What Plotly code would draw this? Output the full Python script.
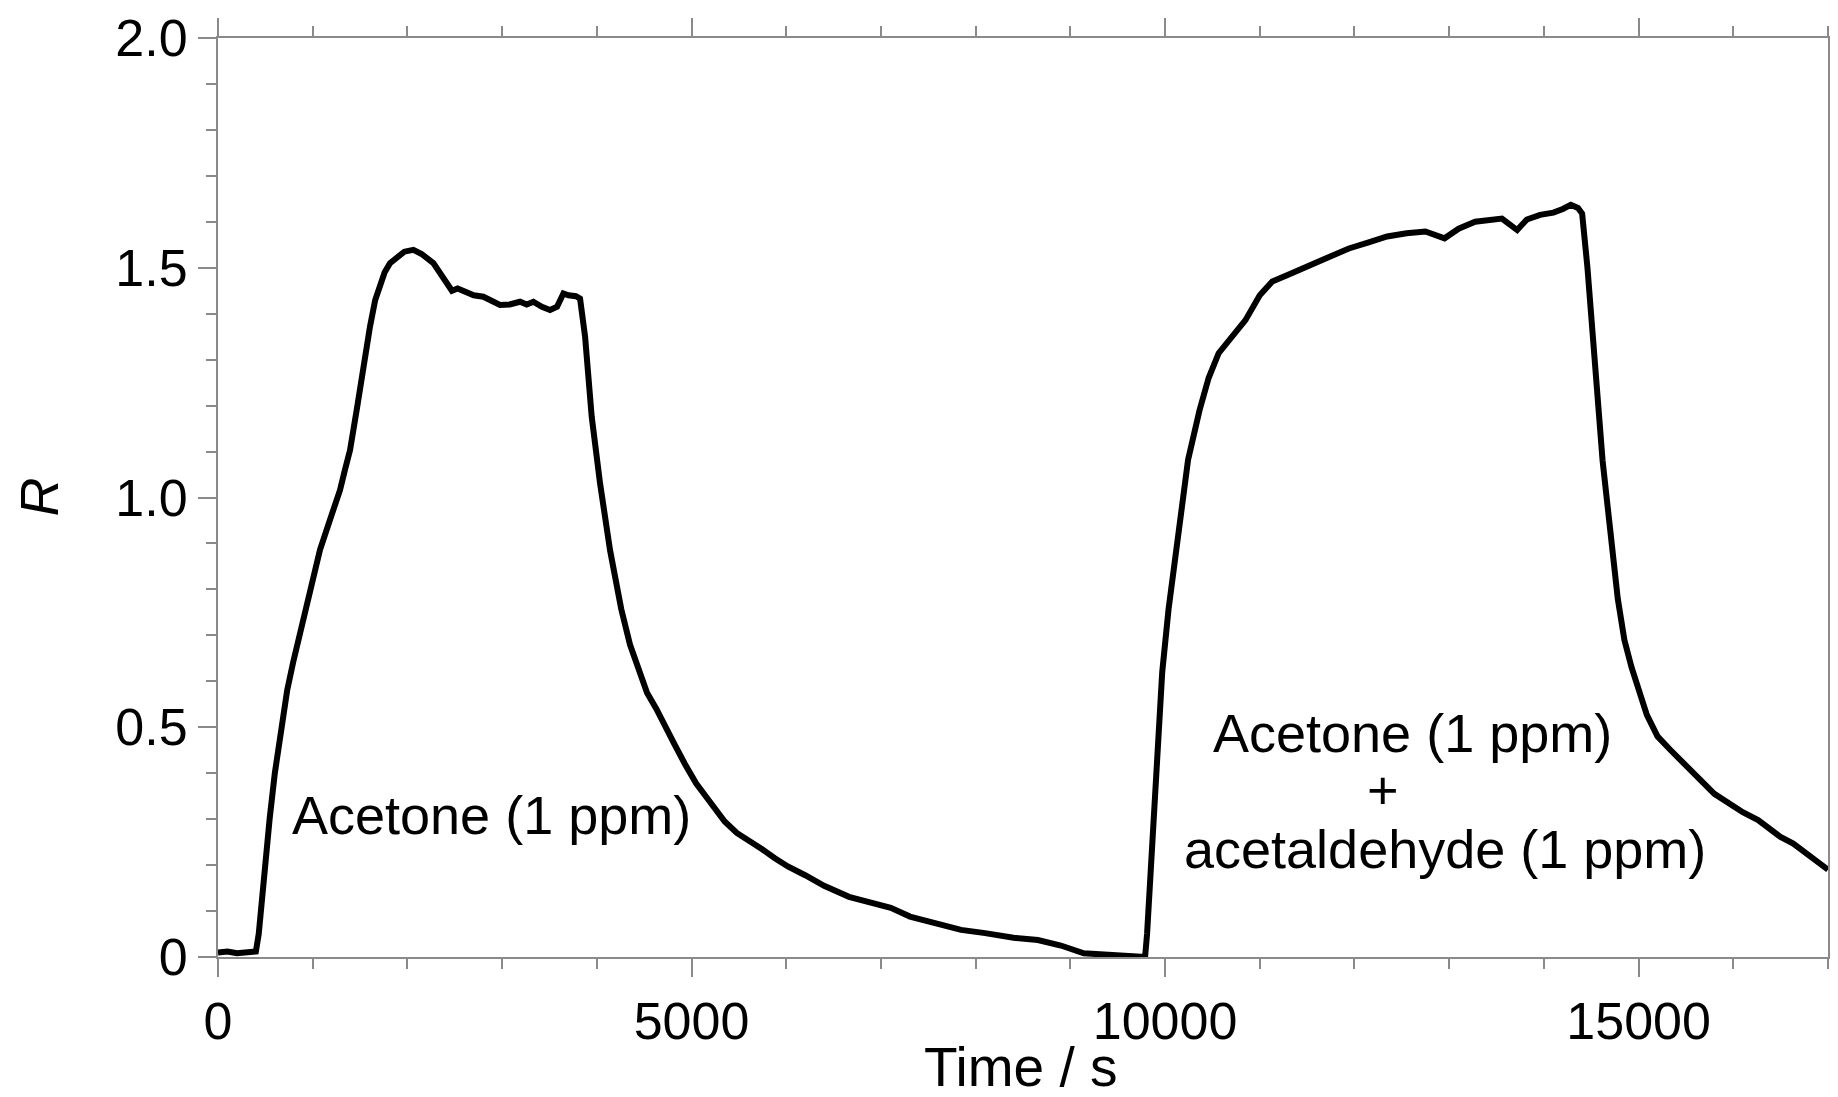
import plotly.graph_objects as go

# Time (s) and response R
time_s = [0, 100, 200, 300, 400, 430, 503, 545, 600, 668, 730, 792, 860, 940, 1010, 1077, 1180, 1288, 1340, 1394,
          1464, 1535, 1605, 1660, 1711, 1760, 1816, 1900, 1968, 2063, 2150, 2274, 2350, 2415, 2470, 2530, 2626, 2700,
          2802, 2900, 2978, 3080, 3189, 3260, 3330, 3420, 3506, 3580, 3647, 3700, 3780, 3823, 3876, 3946, 4034, 4139,
          4258, 4350, 4443, 4530, 4629, 4720, 4815, 4930, 5048, 5150, 5250, 5350, 5478, 5600, 5742, 5880, 6017, 6200,
          6400, 6663, 6900, 7104, 7307, 7599, 7846, 8100, 8400, 8657, 8900, 9142, 9450, 9700, 9789, 9810, 9870, 9920,
          9970, 10037, 10122, 10243, 10364, 10460, 10566, 10700, 10849, 11000, 11132, 11300, 11536, 11750, 11941,
          12150, 12345, 12550, 12749, 12951, 13100, 13274, 13400, 13557, 13718, 13820, 13960, 14100, 14200, 14284,
          14360, 14404, 14460, 14540, 14620, 14700, 14780, 14850, 14926, 15087, 15200, 15334, 15500, 15644, 15800,
          15953, 16100, 16262, 16494, 16633, 16800, 16968, 17000]
response_R = [0.010, 0.012, 0.008, 0.010, 0.012, 0.05, 0.233, 0.30, 0.40, 0.50, 0.58, 0.64, 0.70, 0.757, 0.82, 0.886,
              0.95, 1.016, 1.06, 1.103, 1.19, 1.285, 1.372, 1.43, 1.466, 1.49, 1.51, 1.525, 1.535, 1.539, 1.53, 1.51,
              1.485, 1.466, 1.45, 1.455, 1.448, 1.44, 1.437, 1.425, 1.419, 1.42, 1.426, 1.42, 1.426, 1.415, 1.408,
              1.415, 1.444, 1.44, 1.438, 1.433, 1.35, 1.176, 1.031, 0.886, 0.757, 0.68, 0.63, 0.575, 0.54, 0.50,
              0.465, 0.42, 0.378, 0.35, 0.325, 0.295, 0.27, 0.255, 0.235, 0.215, 0.197, 0.178, 0.155, 0.131, 0.118,
              0.107, 0.088, 0.074, 0.059, 0.052, 0.042, 0.037, 0.025, 0.008, 0.004, 0.002, 0.0, 0.05, 0.25, 0.45,
              0.62, 0.757, 0.886, 1.082, 1.19, 1.26, 1.314, 1.35, 1.386, 1.44, 1.47, 1.485, 1.505, 1.525, 1.542,
              1.555, 1.568, 1.575, 1.579, 1.564, 1.585, 1.60, 1.603, 1.607, 1.582, 1.605, 1.615, 1.62, 1.628, 1.637,
              1.63, 1.618, 1.50, 1.28, 1.08, 0.93, 0.78, 0.69, 0.63, 0.527, 0.48, 0.451, 0.415, 0.387, 0.355, 0.334,
              0.315, 0.298, 0.262, 0.247, 0.22, 0.196, 0.19]

x_tickvals = [0, 5000, 10000, 15000]
x_ticktext = ["0", "5000", "10000", "15000"]
y_tickvals = [0, 0.5, 1.0, 1.5, 2.0]
y_ticktext = ["0", "0.5", "1.0", "1.5", "2.0"]

# annotation labels (text, x in s, y in R)
ann_texts = ["Acetone (1 ppm)", "Acetone (1 ppm)", "+", "acetaldehyde (1 ppm)"]
ann_x = [2883, 12608, 12302, 12957]
ann_y = [0.309, 0.487, 0.363, 0.235]

FONT = "Liberation Sans, Arial, sans-serif"
AX = "#8a8a8a"

fig = go.Figure()
fig.add_trace(go.Scatter(x=time_s, y=response_R, mode="lines",
                         line=dict(color="black", width=6), showlegend=False))

axis_common = dict(showline=True, linecolor=AX, linewidth=2, mirror="ticks",
                   ticks="outside", ticklen=18, tickwidth=2, tickcolor=AX,
                   showgrid=False, zeroline=False, automargin=False,
                   tickfont=dict(family=FONT, size=52, color="black"))

fig.update_xaxes(range=[0, 17000], tickvals=x_tickvals, ticktext=x_ticktext,
                 minor=dict(dtick=1000, ticks="outside", ticklen=10, tickwidth=2, tickcolor=AX),
                 **axis_common)
fig.update_yaxes(range=[0, 2], tickvals=y_tickvals, ticktext=y_ticktext,
                 minor=dict(dtick=0.1, ticks="outside", ticklen=10, tickwidth=2, tickcolor=AX),
                 **axis_common)

for txt, ax_, ay_ in zip(ann_texts, ann_x, ann_y):
    fig.add_annotation(x=ax_, y=ay_, xref="x", yref="y", text=txt, showarrow=False,
                       xanchor="center", yanchor="middle",
                       font=dict(family=FONT, size=54, color="black"))

fig.add_annotation(x=0.499, y=-0.12, xref="paper", yref="paper", text="Time / s", showarrow=False,
                   xanchor="center", yanchor="middle",
                   font=dict(family=FONT, size=55, color="black"))
fig.add_annotation(x=-0.1118, y=0.5, xref="paper", yref="paper", text="<i>R</i>", showarrow=False,
                   textangle=-90, xanchor="center", yanchor="middle",
                   font=dict(family=FONT, size=54, color="black"))

# page body has an 8px margin, so the figure is offset by 8px
fig.update_layout(width=1830, height=1089, margin=dict(l=210, r=10, t=30, b=140),
                  plot_bgcolor="white", paper_bgcolor="white")

fig.write_html("out.html")
